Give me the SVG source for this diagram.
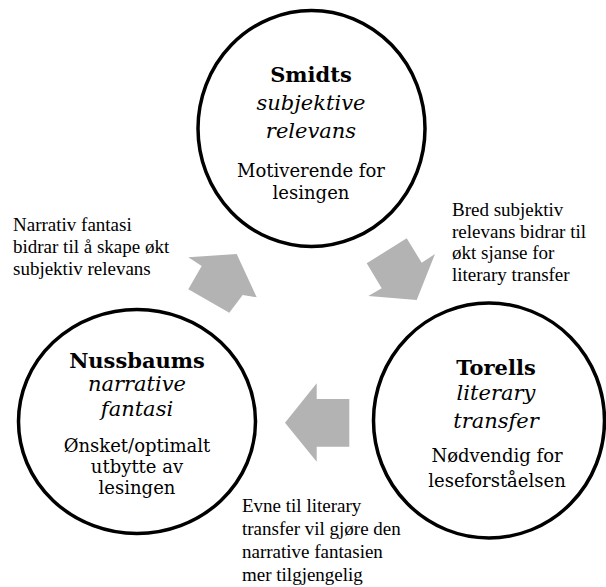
<svg xmlns="http://www.w3.org/2000/svg" width="606" height="587" viewBox="0 0 606 587">
<style>
.c{fill:#fff;stroke:#000;stroke-width:3.5}
.a{fill:#b3b3b3;stroke:none}
.t{font-family:"DejaVu Serif","Liberation Serif",serif;fill:#000;text-anchor:middle}
.b{font-weight:bold;font-size:21px}
.i{font-style:italic;font-size:21px}
.r{font-size:18px}
.l{font-family:"Liberation Serif","Times New Roman",serif;font-size:19px;fill:#000}
</style>
<rect width="606" height="587" fill="#fff"/>
<g id="connectors">
<polygon class="a" points="236.7,254 188.3,257.3 201.7,266 188.3,289.3 229.3,312.7 242.7,295 256.7,297.3"/>
<polygon class="a" points="416.7,300 368.3,296 381.7,288.3 366.7,263.3 406.7,238.3 421.7,262.7 435,254"/>
<polygon class="a" points="285,422.7 316.7,383.3 316.7,399 349.3,399 349.3,446.7 316.7,446.7 316.7,461.7"/>
</g>
<g id="node-smidt">
<ellipse class="c" cx="311.5" cy="128.5" rx="113.5" ry="118"/>
<text class="t b" x="311" y="82">Smidts</text>
<text class="t i" x="311" y="110">subjektive</text>
<text class="t i" x="311" y="137.5">relevans</text>
<text class="t r" x="311" y="177">Motiverende for</text>
<text class="t r" x="311" y="199">lesingen</text>
</g>
<g id="node-nussbaum">
<ellipse class="c" cx="137" cy="421.5" rx="118.5" ry="112"/>
<text class="t b" x="137" y="368">Nussbaums</text>
<text class="t i" x="137" y="391">narrative</text>
<text class="t i" x="137" y="416">fantasi</text>
<text class="t r" x="137" y="452">Ønsket/optimalt</text>
<text class="t r" x="137" y="473">utbytte av</text>
<text class="t r" x="137" y="494">lesingen</text>
</g>
<g id="node-torell">
<ellipse class="c" cx="489" cy="420.5" rx="115.5" ry="117.5"/>
<text class="t b" x="496" y="375">Torells</text>
<text class="t i" x="496" y="400">literary</text>
<text class="t i" x="496" y="428">transfer</text>
<text class="t r" x="497" y="462">Nødvendig for</text>
<text class="t r" x="497" y="486.5">leseforståelsen</text>
</g>
<g id="label-left">
<text class="l" x="13" y="231">Narrativ fantasi</text>
<text class="l" x="13" y="253">bidrar til å skape økt</text>
<text class="l" x="13" y="275">subjektiv relevans</text>
</g>
<g id="label-right">
<text class="l" x="452" y="216">Bred subjektiv</text>
<text class="l" x="452" y="237.7">relevans bidrar til</text>
<text class="l" x="452" y="259.3">økt sjanse for</text>
<text class="l" x="452" y="281">literary transfer</text>
</g>
<g id="label-bottom">
<text class="l" x="242" y="512">Evne til literary</text>
<text class="l" x="242" y="535">transfer vil gjøre den</text>
<text class="l" x="242" y="558">narrative fantasien</text>
<text class="l" x="242" y="581">mer tilgjengelig</text>
</g>
</svg>
